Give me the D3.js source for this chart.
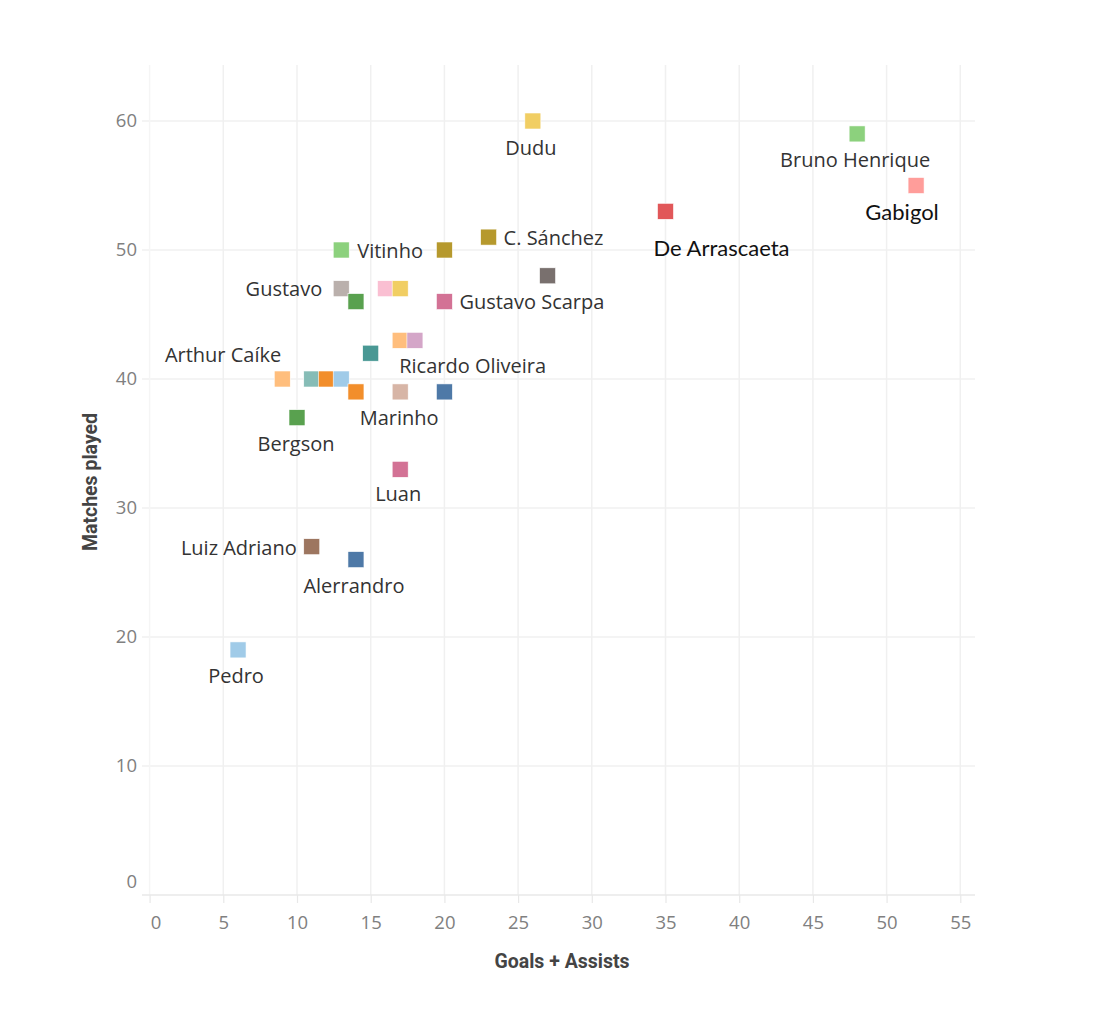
<!DOCTYPE html>
<html><head><meta charset="utf-8">
<script src="https://cdn.jsdelivr.net/npm/d3@7"></script>
<style>
html,body{margin:0;padding:0;background:#fff;}
svg{display:block;}
</style></head>
<body>
<svg id="chart" width="1106" height="1020"></svg>
<script>
const players = ["Dudu","Bruno Henrique","Gabigol","De Arrascaeta","C. Sánchez","Vitinho","","","Gustavo","","","","Gustavo Scarpa","Ricardo Oliveira","","","Arthur Caíke","","","","","Marinho","","Bergson","Luan","Luiz Adriano","Alerrandro","Pedro"];
const goalsAssists = [26,48,52,35,23,13,20,27,13,16,17,14,20,17,18,15,9,11,12,13,14,17,20,10,17,11,14,6];
const matchesPlayed = [60,59,55,53,51,50,50,48,47,47,47,46,46,43,43,42,40,40,40,40,39,39,39,37,33,27,26,19];
const colors = ["#F1CE63","#8CD17D","#FF9D9A","#E15759","#B6992D","#8CD17D","#B6992D","#79706E","#BAB0AC","#FABFD2","#F1CE63","#59A14F","#D37295","#FFBE7D","#D4A6C8","#499894","#FFBE7D","#86BCB6","#F28E2B","#A0CBE8","#F28E2B","#D7B5A6","#4E79A7","#59A14F","#D37295","#9D7660","#4E79A7","#A0CBE8"];
const xTicks = [0,5,10,15,20,25,30,35,40,45,50,55];
const yTicks = [0,10,20,30,40,50,60];

// label placement (layout only): anchor, dx, dy from the mark centre
const labelPlace = {
  "Dudu":["middle",-2,34],
  "Bruno Henrique":["middle",-2,33],
  "Gabigol":["middle",-14,34],
  "De Arrascaeta":["start",-12,45],
  "C. Sánchez":["start",15,8],
  "Vitinho":["start",16,8],
  "Gustavo":["end",-19,7],
  "Gustavo Scarpa":["start",15,7],
  "Ricardo Oliveira":["start",-1,33],
  "Arthur Caíke":["end",-1,-17],
  "Marinho":["middle",-1,33],
  "Bergson":["middle",-1,33],
  "Luan":["middle",-2,32],
  "Luiz Adriano":["end",-15,8],
  "Alerrandro":["middle",-2,33],
  "Pedro":["middle",-2,33]
};
const blackLabels = ["Gabigol","De Arrascaeta"];

const svg = d3.select("#chart");
const x = d3.scaleLinear().domain([0,55]).range([149.6,960.3]);
const y = d3.scaleLinear().domain([0,60]).range([895,121]);
const pLeft = 142, pRight = 975, pTop = 65, pBottom = 895;

// gridlines
svg.append("g").selectAll("line").data(yTicks.filter(d=>d>0)).join("line")
  .attr("x1",pLeft).attr("x2",pRight).attr("y1",d=>y(d)).attr("y2",d=>y(d))
  .attr("stroke","#f0f0f0").attr("stroke-width",1.5);
svg.append("g").selectAll("line").data(xTicks).join("line")
  .attr("x1",d=>x(d)).attr("x2",d=>x(d)).attr("y1",pTop).attr("y2",pBottom)
  .attr("stroke",d=>d===0?"#f5f5f5":"#f0f0f0").attr("stroke-width",1.5);

// x axis
const xAxis = svg.append("g").attr("transform",`translate(0,${pBottom})`)
  .call(d3.axisBottom(x).tickValues(xTicks).tickSize(8).tickPadding(10));
xAxis.select(".domain").attr("d",`M${pLeft},0H${pRight}`).attr("stroke","#e8e8e8").attr("stroke-width",1.5);
xAxis.selectAll(".tick line").attr("stroke","#e8e8e8").attr("stroke-width",1.2);
xAxis.selectAll("text").attr("fill","#808080").attr("font-family","'Open Sans', sans-serif").attr("font-size",18.5).attr("dy","0.85em")
  .attr("dx",d=>d===0?6:0);

// y axis labels
svg.append("g").selectAll("text").data(yTicks).join("text")
  .attr("x",137).attr("y",d=> d===0 ? y(d)-13 : y(d))
  .attr("dy","0.35em").attr("text-anchor","end")
  .attr("fill","#808080").attr("font-family","'Open Sans', sans-serif").attr("font-size",18.5)
  .text(d=>d);

// axis titles
svg.append("text").attr("x",562).attr("y",968).attr("text-anchor","middle")
  .attr("font-family","Roboto, sans-serif").attr("font-weight","bold")
  .attr("font-size",19.5).attr("fill","#444").text("Goals + Assists");
svg.append("text").attr("transform","translate(97,482) rotate(-90)").attr("text-anchor","middle")
  .attr("font-family","Roboto, sans-serif").attr("font-weight","bold")
  .attr("font-size",19.5).attr("fill","#444").text("Matches played");

// marks
const pts = players.map((p,i)=>({name:p, gx:goalsAssists[i], mp:matchesPlayed[i], c:colors[i]}));
const sz = 16;
svg.append("g").selectAll("rect").data(pts).join("rect")
  .attr("x",d=>x(d.gx)-sz/2).attr("y",d=>y(d.mp)-sz/2)
  .attr("width",sz).attr("height",sz).attr("fill",d=>d.c)
  .attr("stroke","#fff").attr("stroke-width",0.6);

// labels
svg.append("g").selectAll("text").data(pts.filter(d=>d.name)).join("text")
  .attr("x",d=>x(d.gx)+labelPlace[d.name][1])
  .attr("y",d=>y(d.mp)+labelPlace[d.name][2])
  .attr("text-anchor",d=>labelPlace[d.name][0])
  .attr("font-family",d=>blackLabels.includes(d.name)?"Lato, sans-serif":"'Open Sans', sans-serif")
  .attr("font-size",d=>blackLabels.includes(d.name)?22:20)
  .attr("fill",d=>blackLabels.includes(d.name)?"#111":"#333")
  .text(d=>d.name);
</script>
</body></html>
